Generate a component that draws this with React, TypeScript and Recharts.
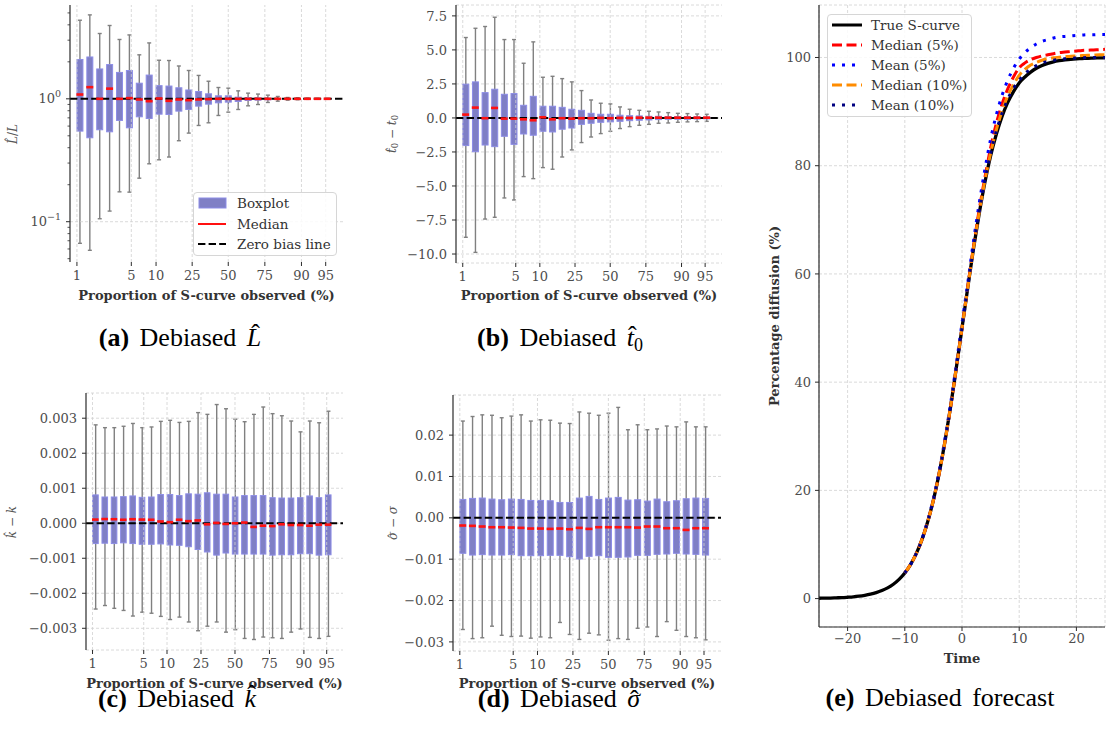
import React from 'react';
import {
  ComposedChart,
  LineChart,
  Line,
  Bar,
  Scatter,
  XAxis,
  YAxis,
  CartesianGrid,
  ReferenceLine,
} from 'recharts';

const SERIF = '"DejaVu Serif", serif';
const CAPTION = '"Liberation Serif", serif';

// one box per observed proportion, evenly spaced along the axis
const slots = [0, 1, 2, 3, 4, 5, 6, 7, 8, 9, 10, 11, 12, 13, 14, 15, 16, 17, 18, 19, 20, 21, 22, 23, 24, 25];
const xTickPos = [-0.3, 5.2, 7.7, 11.35, 15.0, 18.7, 22.4, 24.85];
const xTickLabels = ['1', '5', '10', '25', '50', '75', '90', '95'];

// (a) L-hat / L
const aHi = [4.36, 4.82, 3.4, 3.95, 3.04, 3.31, 2.28, 2.85, 2.06, 2.05, 1.85, 1.7, 1.55, 1.39, 1.236, 1.221, 1.161, 1.112, 1.093, 1.071, 1.045, 1.025, 1.018, 1.012, 1.008, 1.005];
const aQ3 = [2.09, 2.19, 1.75, 1.9, 1.64, 1.7, 1.34, 1.56, 1.28, 1.27, 1.23, 1.18, 1.147, 1.098, 1.058, 1.058, 1.032, 1.025, 1.019, 1.013, 1.006, 1.003, 1.002, 1.002, 1.001, 1.001];
const aMed = [1.084, 1.244, 1.0, 1.21, 1.0, 1.013, 0.988, 0.957, 1.006, 0.963, 0.988, 0.975, 0.988, 0.994, 1.0, 1.0, 1.0, 1.0, 1.0, 1.0, 1.0, 1.0, 1.0, 1.0, 1.0, 1.0];
const aQ1 = [0.546, 0.482, 0.56, 0.539, 0.667, 0.581, 0.714, 0.692, 0.75, 0.746, 0.794, 0.819, 0.872, 0.905, 0.928, 0.94, 0.951, 0.969, 0.975, 0.981, 0.988, 0.995, 0.997, 0.998, 0.999, 0.999];
const aLo = [0.0667, 0.0585, 0.1057, 0.122, 0.175, 0.174, 0.226, 0.296, 0.319, 0.336, 0.456, 0.526, 0.607, 0.638, 0.732, 0.779, 0.819, 0.877, 0.899, 0.934, 0.957, 0.975, 0.982, 0.99, 0.993, 0.996];
const aTicks = [0.05, 0.06, 0.07, 0.08, 0.09, 0.1, 0.2, 0.3, 0.4, 0.5, 0.6, 0.7, 0.8, 0.9, 1, 2, 3, 4, 5];

// (b) t0-hat - t0
const bHi = [5.91, 6.59, 6.72, 7.4, 5.76, 5.76, 4.02, 5.59, 2.99, 3.06, 2.89, 2.65, 2.01, 1.32, 1.08, 1.03, 0.81, 0.64, 0.56, 0.49, 0.44, 0.39, 0.34, 0.32, 0.29, 0.27];
const bQ3 = [2.48, 2.65, 1.86, 2.11, 1.74, 1.79, 0.93, 1.59, 0.86, 0.86, 0.78, 0.64, 0.56, 0.34, 0.27, 0.27, 0.2, 0.17, 0.15, 0.12, 0.12, 0.1, 0.1, 0.1, 0.08, 0.07];
const bMed = [0.245, 0.76, -0.02, 0.735, -0.05, -0.05, -0.1, -0.17, 0.05, -0.1, -0.02, -0.05, -0.02, -0.02, 0, -0.02, 0, 0, 0.02, 0.02, 0.02, 0.02, 0.02, 0.02, 0.02, 0.02];
const bQ1 = [-2.03, -2.48, -1.99, -2.11, -1.35, -1.94, -1.18, -1.27, -0.98, -1.03, -0.83, -0.74, -0.47, -0.39, -0.32, -0.29, -0.25, -0.2, -0.17, -0.15, -0.12, -0.1, -0.1, -0.1, -0.08, -0.07];
const bLo = [-8.77, -9.88, -7.43, -7.3, -5.88, -6.03, -4.31, -4.46, -3.65, -3.77, -2.87, -2.35, -1.81, -1.4, -1.15, -0.98, -0.78, -0.64, -0.54, -0.47, -0.39, -0.37, -0.32, -0.29, -0.27, -0.25];
const bTicks = [-10, -7.5, -5, -2.5, 0, 2.5, 5, 7.5];

// (c) k-hat - k
const cHi = [0.00281, 0.00273, 0.00273, 0.00277, 0.00285, 0.00273, 0.00275, 0.00291, 0.00294, 0.00288, 0.00291, 0.00316, 0.00311, 0.00339, 0.00327, 0.00297, 0.0029, 0.00311, 0.00332, 0.00313, 0.00307, 0.00292, 0.00261, 0.00292, 0.00287, 0.0032];
const cQ3 = [0.00081, 0.00075, 0.00075, 0.00076, 0.00078, 0.00074, 0.00075, 0.00082, 0.00082, 0.00079, 0.00084, 0.00083, 0.00087, 0.00083, 0.00083, 0.00075, 0.00079, 0.00079, 0.00079, 0.00073, 0.00072, 0.00072, 0.00073, 0.00078, 0.00073, 0.00081];
const cMed = [0.000105, 0.00012, 0.000115, 0.0001, 0.000115, 0.000105, 0.0001, 0.00005, 0.00003, 0.0001, 0.00006, 0.00008, -0.00003, 0.00001, -0.00002, 0, 0.00002, -0.000105, -0.00007, -0.00008, -0.00003, -0.00005, -0.00005, -0.00007, -0.00004, -0.00004];
const cQ1 = [-0.00058, -0.00057, -0.00058, -0.00056, -0.00058, -0.0006, -0.0006, -0.00059, -0.00062, -0.00063, -0.00067, -0.00075, -0.00082, -0.00091, -0.00085, -0.00088, -0.00088, -0.00088, -0.00088, -0.00091, -0.0009, -0.0009, -0.00087, -0.00087, -0.00091, -0.0009];
const cLo = [-0.00245, -0.00235, -0.00243, -0.00249, -0.00265, -0.00254, -0.00257, -0.00266, -0.00275, -0.00268, -0.00282, -0.00307, -0.00294, -0.00282, -0.00311, -0.00304, -0.00329, -0.00332, -0.00325, -0.00327, -0.00329, -0.00311, -0.00302, -0.00326, -0.00329, -0.00323];
const cTicks = [-0.003, -0.002, -0.001, 0, 0.001, 0.002, 0.003];

// (d) sigma-hat - sigma
const dHi = [0.0234, 0.0245, 0.0249, 0.0248, 0.0242, 0.0246, 0.0249, 0.0234, 0.0237, 0.0236, 0.0229, 0.0228, 0.0256, 0.0253, 0.0248, 0.0253, 0.0267, 0.0213, 0.0225, 0.0213, 0.0215, 0.0222, 0.022, 0.0232, 0.022, 0.022];
const dQ3 = [0.00445, 0.0047, 0.00478, 0.00453, 0.00437, 0.00453, 0.00445, 0.00421, 0.00421, 0.00413, 0.00372, 0.00372, 0.00478, 0.00518, 0.00445, 0.00478, 0.00494, 0.00429, 0.00437, 0.00405, 0.00453, 0.00389, 0.00413, 0.00462, 0.00478, 0.0047];
const dMed = [-0.00186, -0.00194, -0.0021, -0.00227, -0.00227, -0.00235, -0.00243, -0.00259, -0.00259, -0.00267, -0.00259, -0.00275, -0.00243, -0.00267, -0.00227, -0.00227, -0.00227, -0.00227, -0.00235, -0.0021, -0.0021, -0.00251, -0.00251, -0.00292, -0.00251, -0.00251];
const dQ1 = [-0.00858, -0.009, -0.0089, -0.009, -0.009, -0.0089, -0.00915, -0.00915, -0.00915, -0.00907, -0.00907, -0.0094, -0.00996, -0.00931, -0.00915, -0.00955, -0.00955, -0.00947, -0.00907, -0.00907, -0.00883, -0.00875, -0.00858, -0.00875, -0.00883, -0.009];
const dLo = [-0.027, -0.0292, -0.029, -0.0262, -0.0284, -0.0287, -0.0286, -0.0291, -0.0288, -0.029, -0.0253, -0.0282, -0.0294, -0.0279, -0.0283, -0.0296, -0.0292, -0.0294, -0.0267, -0.0264, -0.0287, -0.0251, -0.0272, -0.0287, -0.029, -0.0295];
const dTicks = [-0.03, -0.02, -0.01, 0, 0.01, 0.02];

// (e) forecast curves, percentage diffusion over time
const times = [-25, -24, -23, -22, -21, -20, -19, -18, -17, -16, -15, -14, -13, -12, -11, -10, -9, -8, -7, -6, -5, -4, -3, -2, -1, 0, 1, 2, 3, 4, 5, 6, 7, 8, 9, 10, 11, 12, 13, 14, 15, 16, 17, 18, 19, 20, 21, 22, 23, 24, 25];
const trueCurve = [0.06, 0.08, 0.1, 0.14, 0.18, 0.25, 0.33, 0.45, 0.61, 0.82, 1.1, 1.48, 1.98, 2.66, 3.56, 4.74, 6.29, 8.32, 10.9, 14.2, 18.2, 23.1, 28.9, 35.4, 42.6, 50.0, 57.4, 64.6, 71.1, 76.9, 81.8, 85.8, 89.1, 91.7, 93.7, 95.3, 96.4, 97.3, 98.0, 98.5, 98.9, 99.2, 99.4, 99.55, 99.67, 99.75, 99.8, 99.86, 99.9, 99.93, 99.95];
// forecasts start at t = -10
const forecastStart = -10;
const median5 = [4.74, 6.29, 8.32, 10.9, 14.2, 18.2, 23.1, 28.9, 35.4, 42.6, 50.0, 57.6, 65.0, 71.8, 77.8, 83.3, 87.8, 91.4, 94.2, 96.4, 98.1, 99.0, 99.6, 100.0, 100.3, 100.5, 100.7, 100.9, 101.0, 101.1, 101.2, 101.3, 101.35, 101.4, 101.45, 101.5];
const mean5 = [4.74, 6.3, 8.35, 11.0, 14.4, 18.5, 23.5, 29.4, 36.0, 43.3, 50.9, 58.3, 66.0, 73.0, 79.3, 84.9, 89.4, 93.0, 95.8, 98.0, 99.7, 100.9, 101.8, 102.5, 103.0, 103.3, 103.6, 103.8, 103.9, 104.0, 104.1, 104.15, 104.2, 104.2, 104.25, 104.25];
const median10 = [4.74, 6.29, 8.32, 10.9, 14.2, 18.2, 23.1, 28.9, 35.4, 42.6, 50.0, 57.4, 64.7, 71.3, 77.2, 82.3, 86.6, 90.1, 92.9, 95.0, 96.7, 97.8, 98.6, 99.1, 99.5, 99.75, 99.95, 100.05, 100.15, 100.25, 100.3, 100.35, 100.4, 100.45, 100.5, 100.5];
const mean10 = [4.74, 6.29, 8.32, 10.9, 14.2, 18.2, 23.1, 28.9, 35.4, 42.6, 50.0, 57.5, 64.8, 71.4, 77.3, 82.3, 86.4, 89.7, 92.3, 94.3, 95.8, 97.0, 97.9, 98.5, 99.0, 99.3, 99.5, 99.65, 99.75, 99.85, 99.9, 99.95, 100.0, 100.0, 100.0, 100.0];
const timeTicks = [-20, -10, 0, 10, 20];
const pctTicks = [0, 20, 40, 60, 80, 100];

const xDomain: [number, number] = [-1, 26.6];
const minus = (s: string) => s.replace('-', '\u2212');

const tickText = { fontFamily: SERIF, fontSize: 13, fill: '#4d4d4d' };
const spine = { stroke: '#2b2b2b', strokeWidth: 1.2 };
const gridProps = { stroke: '#d0d0d0', strokeDasharray: '3 2', strokeWidth: 0.8 };

function buildRows(lo: number[], q1: number[], med: number[], q3: number[], hi: number[]) {
  return slots.map((pos, i) => ({
    pos,
    whisker: [lo[i], hi[i]],
    box: [q1[i], q3[i]],
    med: med[i],
  }));
}

const Whisker = (props: any) => {
  const { x, y, width, height } = props;
  if (x == null || y == null) return null;
  const top = Math.min(y, y + height);
  const bot = Math.max(y, y + height);
  const cx = x + width / 2;
  return (
    <g stroke="#808080" strokeWidth={1.4}>
      <line x1={cx} x2={cx} y1={top} y2={bot} />
      <line x1={x} x2={x + width} y1={top} y2={top} />
      <line x1={x} x2={x + width} y1={bot} y2={bot} />
    </g>
  );
};

const BoxRect = (props: any) => {
  const { x, y, width, height } = props;
  if (x == null || y == null) return null;
  return (
    <rect
      x={x}
      y={Math.min(y, y + height)}
      width={width}
      height={Math.abs(height)}
      fill="#7f7fc5"
      stroke="#8d8de6"
      strokeWidth={1}
    />
  );
};

const medianShape = (w: number) => (props: any) => {
  const { cx, cy } = props;
  if (cx == null || cy == null) return <g />;
  return <line x1={cx - w / 2} x2={cx + w / 2} y1={cy} y2={cy} stroke="#ff1010" strokeWidth={2.6} />;
};

// x tick mark + label hung under a vertical grid line
const xTickLabel = (text: string) => (lp: any) => {
  const vb = lp.viewBox || {};
  if (vb.x == null) return null;
  const bottom = vb.y + vb.height;
  return (
    <g>
      <line x1={vb.x} x2={vb.x} y1={bottom} y2={bottom + 4} stroke="#2b2b2b" />
      <text x={vb.x} y={bottom + 18} textAnchor="middle" style={tickText}>
        {text}
      </text>
    </g>
  );
};

// log axis tick: labelled decades plus short unlabelled minor ticks
const LogTick = (props: any) => {
  const { x, y, payload } = props;
  const v = payload.value;
  const exp = Math.round(Math.log10(v));
  const major = Math.abs(Math.log10(v) - exp) < 1e-6;
  return (
    <g>
      <line x1={x} x2={x - (major ? 4 : 2.5)} y1={y} y2={y} stroke="#2b2b2b" strokeWidth={major ? 1 : 0.8} />
      {major && (
        <text x={x - 9} y={y + 4.5} textAnchor="end" style={tickText}>
          10
          <tspan dy={-6} fontSize={9.5}>{exp === 0 ? '0' : '\u2212' + Math.abs(exp)}</tspan>
        </text>
      )}
    </g>
  );
};

type PanelProps = {
  left: number;
  top: number;
  width: number;
  height: number;
  yAxisWidth: number;
  marginTop: number;
  marginRight: number;
  xAxisHeight: number;
  rows: any[];
  yDomain: [number, number];
  yTicks: number[];
  yFmt?: (v: number) => string;
  log?: boolean;
  zero: number;
  boxSize: number;
};

function BoxPanel(p: PanelProps) {
  return (
    <div style={{ position: 'absolute', left: p.left, top: p.top }}>
      <ComposedChart
        width={p.width}
        height={p.height}
        data={p.rows}
        margin={{ top: p.marginTop, right: p.marginRight, bottom: 0, left: 0 }}
      >
        {!p.log && <CartesianGrid xAxisId="x" vertical={false} {...gridProps} />}
        <XAxis
          xAxisId="x"
          type="number"
          dataKey="pos"
          domain={xDomain}
          allowDataOverflow
          height={p.xAxisHeight}
          axisLine={spine}
          tick={false}
          tickLine={false}
        />
        <XAxis xAxisId="w" type="number" dataKey="pos" domain={xDomain} allowDataOverflow hide />
        <XAxis xAxisId="b" type="number" dataKey="pos" domain={xDomain} allowDataOverflow hide />
        {p.log ? (
          <YAxis
            type="number"
            scale="log"
            domain={p.yDomain}
            allowDataOverflow
            ticks={p.yTicks}
            interval={0}
            width={p.yAxisWidth}
            axisLine={spine}
            tickLine={false}
            tickSize={0}
            tickMargin={0}
            tick={<LogTick />}
          />
        ) : (
          <YAxis
            type="number"
            domain={p.yDomain}
            allowDataOverflow
            ticks={p.yTicks}
            interval={0}
            tickFormatter={p.yFmt}
            width={p.yAxisWidth}
            axisLine={spine}
            tickLine={{ stroke: '#2b2b2b' }}
            tickSize={4}
            tickMargin={5}
            tick={tickText}
          />
        )}
        {xTickPos.map((pos, i) => (
          <ReferenceLine key={pos} xAxisId="x" x={pos} {...gridProps} label={xTickLabel(xTickLabels[i])} />
        ))}
        {p.log && <ReferenceLine xAxisId="x" y={0.1} {...gridProps} />}
        <Bar xAxisId="w" dataKey="whisker" barSize={4} shape={<Whisker />} isAnimationActive={false} />
        <Bar xAxisId="b" dataKey="box" barSize={p.boxSize} shape={<BoxRect />} isAnimationActive={false} />
        <ReferenceLine xAxisId="x" y={p.zero} stroke="#000" strokeWidth={2} strokeDasharray="7.4 3.2" />
        <Scatter xAxisId="x" dataKey="med" shape={medianShape(p.boxSize + 1)} isAnimationActive={false} />
      </ComposedChart>
    </div>
  );
}

const forecastRows = times.map((t, i) => {
  const j = t - forecastStart;
  const on = j >= 0;
  return {
    t,
    truth: trueCurve[i],
    med5: on ? median5[j] : null,
    mean5: on ? mean5[j] : null,
    med10: on ? median10[j] : null,
    mean10: on ? mean10[j] : null,
  };
});

const seriesStyle = [
  { key: 'truth', name: 'True S-curve', color: '#000000', dash: undefined as string | undefined },
  { key: 'med5', name: 'Median (5%)', color: '#ff0000', dash: '10 4.5' },
  { key: 'mean5', name: 'Mean (5%)', color: '#0000ff', dash: '3 7' },
  { key: 'med10', name: 'Median (10%)', color: '#ff8c00', dash: '10 4.5' },
  { key: 'mean10', name: 'Mean (10%)', color: '#000080', dash: '3 7' },
];

// letter with a circumflex accent placed over it
const Hat = ({ ch, lift, shift = 0.08, italic = true }: { ch: string; lift: number; shift?: number; italic?: boolean }) => (
  <span style={{ position: 'relative', display: 'inline-block', fontStyle: italic ? 'italic' : 'normal' }}>
    {ch}
    <span
      style={{
        position: 'absolute',
        left: `${shift}em`,
        right: 0,
        top: `${-lift}em`,
        textAlign: 'center',
        fontStyle: 'normal',
      }}
    >
      {'\u02C6'}
    </span>
  </span>
);

const CAP_SIZE = 26;

const Caption = ({ cx, baseline, tag, children }: { cx: number; baseline: number; tag: string; children: React.ReactNode }) => (
  <div
    style={{
      position: 'absolute',
      left: cx - 160,
      width: 320,
      top: baseline - 22,
      textAlign: 'center',
      fontFamily: CAPTION,
      fontSize: CAP_SIZE,
      lineHeight: `${CAP_SIZE}px`,
      wordSpacing: 4,
      color: '#000',
      whiteSpace: 'nowrap',
    }}
  >
    <b>({tag})</b> Debiased {children}
  </div>
);

const AxisTitle = ({ cx, cy, rotate, bold, children, size = 13, color = '#333' }: any) => (
  <div
    style={{
      position: 'absolute',
      left: cx,
      top: cy,
      transform: `translate(-50%, -50%)${rotate ? ' rotate(-90deg)' : ''}`,
      fontFamily: SERIF,
      fontSize: size,
      fontWeight: bold ? 'bold' : 'normal',
      color,
      whiteSpace: 'nowrap',
      lineHeight: 1,
    }}
  >
    {children}
  </div>
);

const legendText = { fontFamily: SERIF, fontSize: 13.5, color: '#333' };
const sub = { fontSize: '0.7em', verticalAlign: '-0.25em', fontStyle: 'normal' as const };

export default function App() {
  const aRows = buildRows(aLo, aQ1, aMed, aQ3, aHi);
  const bRows = buildRows(bLo, bQ1, bMed, bQ3, bHi);
  const cRows = buildRows(cLo, cQ1, cMed, cQ3, cHi);
  const dRows = buildRows(dLo, dQ1, dMed, dQ3, dHi);
  const propLabel = 'Proportion of S-curve observed (%)';

  return (
    <div style={{ position: 'absolute', left: 0, top: 0, width: 1115, height: 743, background: '#fff', overflow: 'hidden' }}>
      <BoxPanel
        left={0} top={0} width={360} height={310}
        yAxisWidth={70} marginTop={5} marginRight={17} xAxisHeight={48}
        rows={aRows} yDomain={[0.047, 5.8]} yTicks={aTicks} log zero={1} boxSize={6}
      />
      <BoxPanel
        left={360} top={0} width={375} height={310}
        yAxisWidth={96} marginTop={5} marginRight={13} xAxisHeight={47}
        rows={bRows} yDomain={[-10.66, 8.3]} yTicks={bTicks}
        yFmt={(v) => minus(v.toFixed(1))} zero={0} boxSize={6}
      />
      <BoxPanel
        left={0} top={380} width={360} height={310}
        yAxisWidth={86} marginTop={13} marginRight={17} xAxisHeight={40}
        rows={cRows} yDomain={[-0.00362, 0.00372]} yTicks={cTicks}
        yFmt={(v) => minus(v.toFixed(3))} zero={0} boxSize={5.6}
      />
      <BoxPanel
        left={380} top={380} width={355} height={310}
        yAxisWidth={73} marginTop={15} marginRight={14} xAxisHeight={39}
        rows={dRows} yDomain={[-0.0322, 0.0297]} yTicks={dTicks}
        yFmt={(v) => minus(v.toFixed(2))} zero={0} boxSize={6}
      />

      <div style={{ position: 'absolute', left: 740, top: 0 }}>
        <LineChart width={375} height={680} data={forecastRows} margin={{ top: 5, right: 10, bottom: 0, left: 0 }}>
          <CartesianGrid {...gridProps} />
          <XAxis
            type="number"
            dataKey="t"
            domain={[-25, 25]}
            allowDataOverflow
            ticks={timeTicks}
            interval={0}
            tickFormatter={(v) => minus(String(v))}
            height={53}
            axisLine={spine}
            tickLine={{ stroke: '#2b2b2b' }}
            tickSize={4}
            tickMargin={3}
            tick={tickText}
          />
          <YAxis
            type="number"
            domain={[-5.25, 109.7]}
            allowDataOverflow
            ticks={pctTicks}
            interval={0}
            width={79}
            axisLine={spine}
            tickLine={{ stroke: '#2b2b2b' }}
            tickSize={4}
            tickMargin={4}
            tick={tickText}
          />
          {seriesStyle.map((s) => (
            <Line
              key={s.key}
              type="monotone"
              dataKey={s.key}
              name={s.name}
              stroke={s.color}
              strokeWidth={s.key === 'truth' ? 3.3 : 3}
              strokeDasharray={s.dash}
              dot={false}
              isAnimationActive={false}
            />
          ))}
        </LineChart>
      </div>

      {/* legend of panel (a) */}
      <div
        style={{
          position: 'absolute', left: 193, top: 192, width: 144, height: 64,
          border: '1px solid #d6d6d6', borderRadius: 4, background: 'rgba(255,255,255,0.85)', boxSizing: 'border-box',
        }}
      >
        {[
          { label: 'Boxplot', swatch: <rect x={1} y={5} width={27} height={10} fill="#7f7fc5" stroke="#8d8de6" /> },
          { label: 'Median', swatch: <line x1={0} x2={28} y1={10} y2={10} stroke="#ff1010" strokeWidth={2} /> },
          { label: 'Zero bias line', swatch: <line x1={0} x2={28} y1={10} y2={10} stroke="#000" strokeWidth={2} strokeDasharray="7.4 3.2" /> },
        ].map((e, i) => (
          <div key={e.label} style={{ position: 'absolute', left: 4, top: i * 20.5, height: 20, display: 'flex', alignItems: 'center' }}>
            <svg width={29} height={20}>{e.swatch}</svg>
            <span style={{ ...legendText, marginLeft: 10 }}>{e.label}</span>
          </div>
        ))}
      </div>

      {/* legend of panel (e) */}
      <div
        style={{
          position: 'absolute', left: 827, top: 14, width: 145, height: 103,
          border: '1px solid #d6d6d6', borderRadius: 4, background: 'rgba(255,255,255,0.85)', boxSizing: 'border-box',
        }}
      >
        {seriesStyle.map((s, i) => (
          <div key={s.key} style={{ position: 'absolute', left: 4, top: i * 20, height: 20, display: 'flex', alignItems: 'center' }}>
            <svg width={30} height={20}>
              <line x1={0} x2={30} y1={10} y2={10} stroke={s.color} strokeWidth={3} strokeDasharray={s.dash} />
            </svg>
            <span style={{ ...legendText, marginLeft: 9 }}>{s.name}</span>
          </div>
        ))}
      </div>

      {/* axis titles */}
      <AxisTitle cx={206.5} cy={295} bold>{propLabel}</AxisTitle>
      <AxisTitle cx={589} cy={295} bold>{propLabel}</AxisTitle>
      <AxisTitle cx={214.5} cy={683} bold>{propLabel}</AxisTitle>
      <AxisTitle cx={587} cy={683} bold>{propLabel}</AxisTitle>
      <AxisTitle cx={962} cy={658} bold>Time</AxisTitle>
      <AxisTitle cx={774} cy={316} rotate bold>Percentage diffusion (%)</AxisTitle>

      <AxisTitle cx={13} cy={134} rotate size={12} color="#555">
        <Hat ch="L" lift={0.13} shift={0.1} />/<i>L</i>
      </AxisTitle>
      <AxisTitle cx={393} cy={134} rotate size={12} color="#555">
        <Hat ch="t" lift={0.03} shift={0.05} /><span style={sub}>0</span> {'\u2212'} <i>t</i><span style={sub}>0</span>
      </AxisTitle>
      <AxisTitle cx={12} cy={522} rotate size={12} color="#555">
        <Hat ch="k" lift={0.15} shift={0.08} /> {'\u2212'} <i>k</i>
      </AxisTitle>
      <AxisTitle cx={393} cy={523} rotate size={12} color="#555">
        <Hat ch={'\u03C3'} lift={-0.1} shift={0.05} /> {'\u2212'} <i>{'\u03C3'}</i>
      </AxisTitle>

      {/* sub-figure captions */}
      <Caption cx={180} baseline={347} tag="a"><Hat ch="L" lift={0.15} shift={0.12} /></Caption>
      <Caption cx={560} baseline={347} tag="b">
        <Hat ch="t" lift={0.06} shift={0.05} />
        <span style={{ fontSize: 18, verticalAlign: '-0.25em' }}>0</span>
      </Caption>
      <Caption cx={177} baseline={708} tag="c"><Hat ch="k" lift={0.16} shift={0.1} /></Caption>
      <Caption cx={559} baseline={708} tag="d"><Hat ch={'\u03C3'} lift={-0.05} shift={0.05} /></Caption>
      <div
        style={{
          position: 'absolute', left: 780, width: 320, top: 707 - 22, textAlign: 'center',
          fontFamily: CAPTION, fontSize: CAP_SIZE, lineHeight: `${CAP_SIZE}px`, wordSpacing: 4, color: '#000', whiteSpace: 'nowrap',
        }}
      >
        <b>(e)</b> Debiased forecast
      </div>
    </div>
  );
}
